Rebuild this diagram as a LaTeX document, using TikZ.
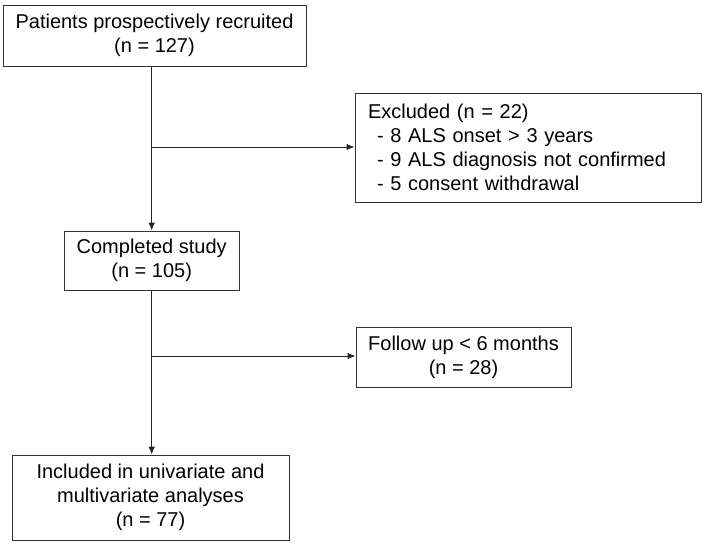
\documentclass[tikz,border=0pt]{standalone}
\usepackage{fontspec}
\setmainfont{Liberation Sans}
\usetikzlibrary{arrows.meta}

\begin{document}
\begin{tikzpicture}[x=1pt,y=-1pt,
    box/.style={draw=black!80,line width=0.9pt,inner sep=0pt,align=center,font=\fontsize{20}{24}\selectfont},
    arr/.style={draw=black!85,line width=0.9pt,-{Latex[length=8pt,width=6.5pt]}}]
  \useasboundingbox (0,0) rectangle (708,543);
  \node[box,minimum width=303pt,minimum height=61pt] (recruit) at (154.5,35.5) {Patients prospectively recruited\\(n = 127)};
  \node[box,text width=320pt,align=left,inner xsep=13pt,minimum height=109pt] (excluded) at (528,147.5)
    {Excluded (n = 22)\\\hspace*{9pt}- 8 ALS onset > 3 years\\\hspace*{9pt}- 9 ALS diagnosis not confirmed\\\hspace*{9pt}- 5 consent withdrawal};
  \node[box,minimum width=175pt,minimum height=59pt] (completed) at (151.7,260.5) {Completed study\\(n = 105)};
  \node[box,minimum width=215pt,minimum height=60pt] (followup) at (463.5,357) {Follow up < 6 months\\(n = 28)};
  \node[box,minimum width=277pt,minimum height=85pt] (included) at (150.5,497.5) {Included in univariate and\\multivariate analyses\\(n = 77)};

  \coordinate (split1) at (151.7,147);
  \coordinate (split2) at (151.7,356);
  \draw[arr] (completed.north |- recruit.south) -- (completed.north);
  \draw[arr] (split1) -- (split1 -| excluded.west);
  \draw[arr] (completed.south) -- (completed.south |- included.north);
  \draw[arr] (split2) -- (split2 -| followup.west);
\end{tikzpicture}
\end{document}
